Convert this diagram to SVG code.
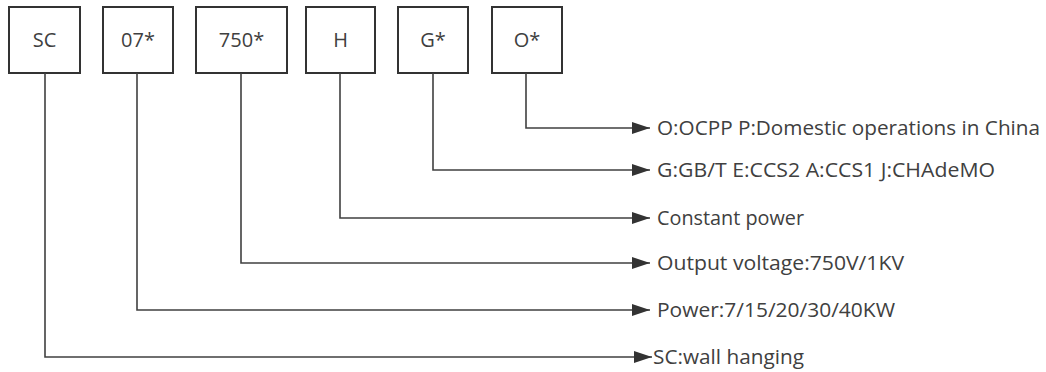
<svg xmlns="http://www.w3.org/2000/svg" width="1046" height="372" viewBox="0 0 1046 372">
<style>
.box{fill:#fff;stroke:#333;stroke-width:2}
.bt{font-family:"Open Sans","Noto Sans",sans-serif;font-size:20px;fill:#404040;text-anchor:middle}
.lt{font-family:"Open Sans","Noto Sans",sans-serif;font-size:20px;fill:#404040}
.c{fill:none;stroke:#404040;stroke-width:1.6;marker-end:url(#ah)}
</style>
<defs>
<marker id="ah" markerUnits="userSpaceOnUse" markerWidth="20" markerHeight="14" refX="18" refY="6" orient="auto">
<path d="M0,0 L18,6 L0,12 Z" fill="#333"/>
</marker>
</defs>
<rect width="1046" height="372" fill="#fff"/>
<g id="n-sc"><rect class="box" x="9" y="7" width="71" height="66"/><text class="bt" x="44.5" y="47">SC</text></g>
<g id="n-07"><rect class="box" x="103" y="7" width="70" height="66"/><text class="bt" x="138" y="47">07*</text></g>
<g id="n-750"><rect class="box" x="196" y="7" width="91" height="66"/><text class="bt" x="241.5" y="47">750*</text></g>
<g id="n-h"><rect class="box" x="306" y="7" width="69" height="66"/><text class="bt" x="340.5" y="47">H</text></g>
<g id="n-g"><rect class="box" x="398" y="7" width="70" height="66"/><text class="bt" x="433" y="47">G*</text></g>
<g id="n-o"><rect class="box" x="492" y="7" width="70" height="66"/><text class="bt" x="527" y="47">O*</text></g>
<g id="connectors">
<path class="c" d="M526,73 V128 H650"/>
<path class="c" d="M433,73 V170 H650"/>
<path class="c" d="M340,73 V218 H650"/>
<path class="c" d="M241,73 V263 H650"/>
<path class="c" d="M137,73 V310 H650"/>
<path class="c" d="M45,73 V357 H652"/>
</g>
<g id="labels">
<text class="lt" x="657" y="135" textLength="383" lengthAdjust="spacingAndGlyphs">O:OCPP P:Domestic operations in China</text>
<text class="lt" x="657" y="177" textLength="338" lengthAdjust="spacingAndGlyphs">G:GB/T E:CCS2 A:CCS1 J:CHAdeMO</text>
<text class="lt" x="657" y="225" textLength="147" lengthAdjust="spacingAndGlyphs">Constant power</text>
<text class="lt" x="657" y="270" textLength="247" lengthAdjust="spacingAndGlyphs">Output voltage:750V/1KV</text>
<text class="lt" x="657" y="317" textLength="238" lengthAdjust="spacingAndGlyphs">Power:7/15/20/30/40KW</text>
<text class="lt" x="653" y="364" textLength="151" lengthAdjust="spacingAndGlyphs">SC:wall hanging</text>
</g>
</svg>
